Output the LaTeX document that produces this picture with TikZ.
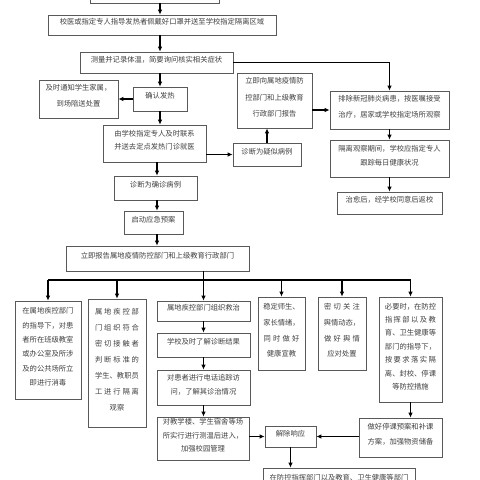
\documentclass[tikz,border=0pt]{standalone}
\usepackage{fontspec}
\setmainfont{Noto Sans CJK SC}
\usetikzlibrary{fit,arrows.meta}
\tikzset{
  bx/.style={draw=black!65, line width=0.7pt, fill=white, inner sep=0pt, align=center, text=black!75, font=\fontsize{7.3}{15}\selectfont},
  bxl/.style={bx, align=left},
  arr/.style={-{Latex[length=5pt,width=4.5pt]}, line width=1.2pt, black},
  ln/.style={line width=1.2pt, black},
  txt/.style={inner sep=0pt, text=black!75, font=\fontsize{7.3}{15}\selectfont}
}
\newcommand{\sline}[2]{\leavevmode\hbox to #1{#2}}
\begin{document}
\begin{tikzpicture}[x=1pt,y=-1pt]
\fill[white] (0,0) rectangle (480,480);
\useasboundingbox (0,0) rectangle (480,480);
% top column
\node[bx, fit={(90,-30) (219,3)}] (top) {};
\node[bx, fit={(48,15) (276,35)}] (b2) {校医或指定专人指导发热者佩戴好口罩并送至学校指定隔离区域};
\node[bx, fit={(80,52) (233,73)}] (b3) {测量并记录体温，简要询问核实相关症状};
\node[bx, fit={(133,87) (187,111)}] (qr) {确认发热};
\node[bx, fit={(39,80) (118,118)}, font=\fontsize{7.3}{16}\selectfont] (tz) {及时通知学生家属，\\到场陪送处置};
\node[bx, fit={(103,125) (206,162)}, font=\fontsize{7.3}{13.5}\selectfont] (sy) {由学校指定专人及时联系\\并送去定点发热门诊就医};
\node[bx, fit={(233,143) (301,166)}] (ys) {诊断为疑似病例};
\node[bx, fit={(237,73) (312,128)}, font=\fontsize{7.3}{16.5}\selectfont] (bg) {立即向属地疫情防\\控部门和上级教育\\行政部门报告};
\node[bx, fit={(330,91) (449,129)}, font=\fontsize{7.3}{15.5}\selectfont] (pc) {排除新冠肺炎病患，按医嘱接受\\治疗，居家或学校指定场所观察};
\node[bx, fit={(330,140) (449,177)}, font=\fontsize{7.3}{14.3}\selectfont] (gl) {隔离观察期间，学校应指定专人\\跟踪每日健康状况};
\node[bx, fit={(337,192) (442,214)}] (zy) {治愈后，经学校同意后返校};
\node[bx, fit={(114,176) (197,200)}] (qz) {诊断为确诊病例};
\node[bx, fit={(124,211) (183,234)}] (yj) {启动应急预案};
\node[bx, fit={(66,246) (249,271)}] (lj) {立即报告属地疫情防控部门和上级教育行政部门};
% lower boxes
\node[bxl, fit={(15,301) (81,399)}, font=\fontsize{7.3}{14.4}\selectfont] (A) {在属地疾控部门\\的指导下，对患\\者所在班级教室\\或办公室及所涉\\及的公共场所立\\即进行消毒};
\node[bxl, fit={(88,299) (146,427)}, font=\fontsize{7.3}{16}\selectfont] (B) {\sline{44pt}{属\hfil 地\hfil 疾\hfil 控\hfil 部}\\\sline{44pt}{门\hfil 组\hfil 织\hfil 符\hfil 合}\\\sline{44pt}{密\hfil 切\hfil 接\hfil 触\hfil 者}\\\sline{44pt}{判\hfil 断\hfil 标\hfil 准\hfil 的}\\学生、教职员\\\sline{44pt}{工\hfil 进\hfil 行\hfil 隔\hfil 离}\\观察};
\node[bx, fit={(157,301) (250,321)}] (C1) {属地疾控部门组织救治};
\node[bx, fit={(157,333) (250,357)}] (C2) {学校及时了解诊断结果};
\node[bx, fit={(157,370) (250,405)}, font=\fontsize{7.3}{14}\selectfont] (C3) {对患者进行电话追踪访\\问，了解其诊治情况};
\node[bx, fit={(157,417) (249,460)}, font=\fontsize{7.3}{13.5}\selectfont] (C4) {对教学楼、学生宿舍等场\\所实行进行测温后进入，\\加强校园管理};
\node[bxl, fit={(258,297) (305,370)}, font=\fontsize{7.3}{15.7}\selectfont] (D) {稳定师生、\\家长情绪，\\\sline{36pt}{同\hfil 时\hfil 做\hfil 好}\\健康宣教};
\node[bxl, fit={(318,297) (366,370)}, font=\fontsize{7.3}{15.7}\selectfont] (E) {\sline{36pt}{密\hfil 切\hfil 关\hfil 注}\\舆情动态，\\\sline{36pt}{做\hfil 好\hfil 舆\hfil 情}\\应对处置};
\node[bxl, fit={(379,297) (442,402)}, font=\fontsize{7.3}{13.4}\selectfont] (F) {必要时，在防控\\\sline{51pt}{指\hfil 挥\hfil 部\hfil 以\hfil 及\hfil 教}\\育、卫生健康等\\部门的指导下，\\\sline{51pt}{按\hfil 要\hfil 求\hfil 落\hfil 实\hfil 隔}\\离、封校、停课\\等防控措施};
\node[bx, fit={(265,426) (316,447)}] (G) {解除响应};
\node[bx, fit={(359,418) (442,457)}, font=\fontsize{7.3}{15}\selectfont] (H) {做好停课预案和补课\\方案，加强物资储备};
\node[bx, fit={(263,468) (415,520)}] (I) {};
\node[txt, anchor=north] (It) at ([yshift=-6pt]I.north) {在防控指挥部门以及教育、卫生健康等部门};
% connectors
\coordinate (xm) at (160,0);
\coordinate (xq) at (157,0);
\coordinate (bus) at (0,280);
\draw[arr] (top.south -| xm) -- (b2.north -| xm);
\draw[arr] (b2.south -| xm) -- (b3.north -| xm);
\draw[arr] (b3.south -| xm) -- (qr.north -| xm);
\draw[arr] (b3.east) -| (pc.north);
\draw[arr] (qr.west) -- (tz.east);
\draw[arr] (qr.south -| xm) -- (sy.north -| xm);
\draw[arr] (ys.west -| sy.east) -- (ys.west);
\draw[arr] (ys.north) -- (ys.north |- bg.south);
\draw[arr] (pc.west -| bg.east) -- (pc.west);
\draw[arr] (pc.south) -- (gl.north);
\draw[arr] (gl.south) -- (zy.north);
\draw[arr] (sy.south -| xq) -- (qz.north -| xq);
\draw[arr] (qz.south -| xq) -- (yj.north -| xq);
\draw[arr] (yj.south -| xq) -- (lj.north -| xq);
\draw[ln] (A.north |- bus) -- (F.north |- bus);
\draw[arr] (A.north |- bus) -- (A.north);
\draw[arr] (B.north |- bus) -- (B.north);
\draw[arr] (D.north |- bus) -- (D.north);
\draw[arr] (E.north |- bus) -- (E.north);
\draw[arr] (F.north |- bus) -- (F.north);
\draw[arr] (lj.south -| C1.north) -- (C1.north);
\draw[arr] (C1.south) -- (C2.north);
\draw[arr] (C2.south) -- (C3.north);
\draw[arr] (C3.south) -- (C3.south |- C4.north);
\draw[arr] (G.west -| C4.east) -- (G.west);
\draw[arr] (H.west |- G.east) -- (G.east);
\draw[arr] (F.south) -- (F.south |- H.north);
\draw[arr] (G.south) -- (G.south |- I.north);
\end{tikzpicture}
\end{document}
